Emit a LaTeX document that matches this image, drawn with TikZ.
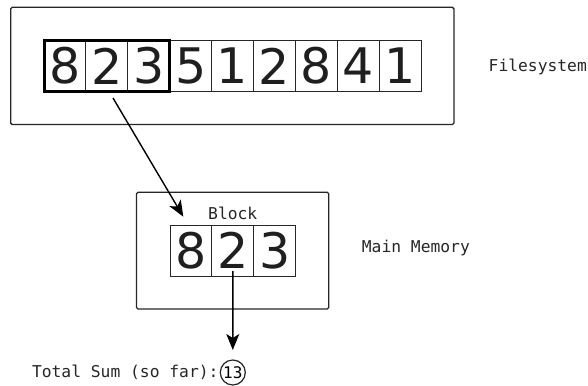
\documentclass[tikz,border=0pt]{standalone}
\usepackage{fontspec}
\usetikzlibrary{arrows.meta,fit}
\newfontfamily\digf{DejaVu Sans}
\newfontfamily\monof{DejaVu Sans Mono}
\begin{document}
\begin{tikzpicture}[x=1pt,y=-1pt,
  cellbox/.style={draw=black!85, line width=1pt, minimum width=41.9pt, minimum height=51pt, inner sep=0pt, outer sep=0pt, font=\digf\fontsize{49}{49}\selectfont, text=black!88},
  areabox/.style={draw=black!85, line width=1.3pt, rounded corners=1.5pt, inner sep=0pt},
  lbl/.style={font=\monof\fontsize{16.3}{18}\selectfont, text=black!85, inner sep=0pt},
  arr/.style={line width=1.4pt, -{Stealth[length=16pt,width=13pt,inset=4pt]}}]
\useasboundingbox (0,0) rectangle (588,385);
% filesystem area
\node[areabox, minimum width=443.3pt, minimum height=117.2pt] (fs) at (232.3,65.9) {};
\foreach \d [count=\i from 0] in {8,2,3,5,1,2,8,4,1}
  \node[cellbox] (f\i) at ({44+20.95+41.9*\i},66.1) {\d};
\node[draw=black, line width=3pt, inner sep=0pt, fit=(f0)(f2)] (sel) {};
\node[lbl, anchor=west] (fslbl) at (488.5,67) {Filesystem};
% main memory area
\node[areabox, minimum width=192.2pt, minimum height=116.8pt] (mem) at (232.6,250.6) {};
\foreach \d [count=\i from 0] in {8,2,3}
  \node[cellbox] (m\i) at ({170+20.95+41.9*\i},250.5) {\d};
\node[lbl, anchor=south west] (blk) at (208,219.5) {Block};
\node[lbl, anchor=west] (memlbl) at (361.7,248) {Main Memory};
% total sum
\node[draw=black!85, line width=1.2pt, circle, minimum size=25pt, inner sep=0pt, font=\monof\fontsize{16}{16}\selectfont] (sum) at (232.8,372.5) {13};
\node[lbl, anchor=east] (sumlbl) at ([xshift=-1pt]sum.west) {Total Sum (so far):};
% arrows
\coordinate (a1s) at (113,98);
\coordinate (a1e) at (183.3,216.7);
\draw[arr] (a1s) -- (a1e);
\coordinate (a2s) at ([yshift=5pt]m1.south);
\coordinate (a2e) at (232.8,350);
\draw[arr] (a2s) -- (a2e);
\end{tikzpicture}
\end{document}
